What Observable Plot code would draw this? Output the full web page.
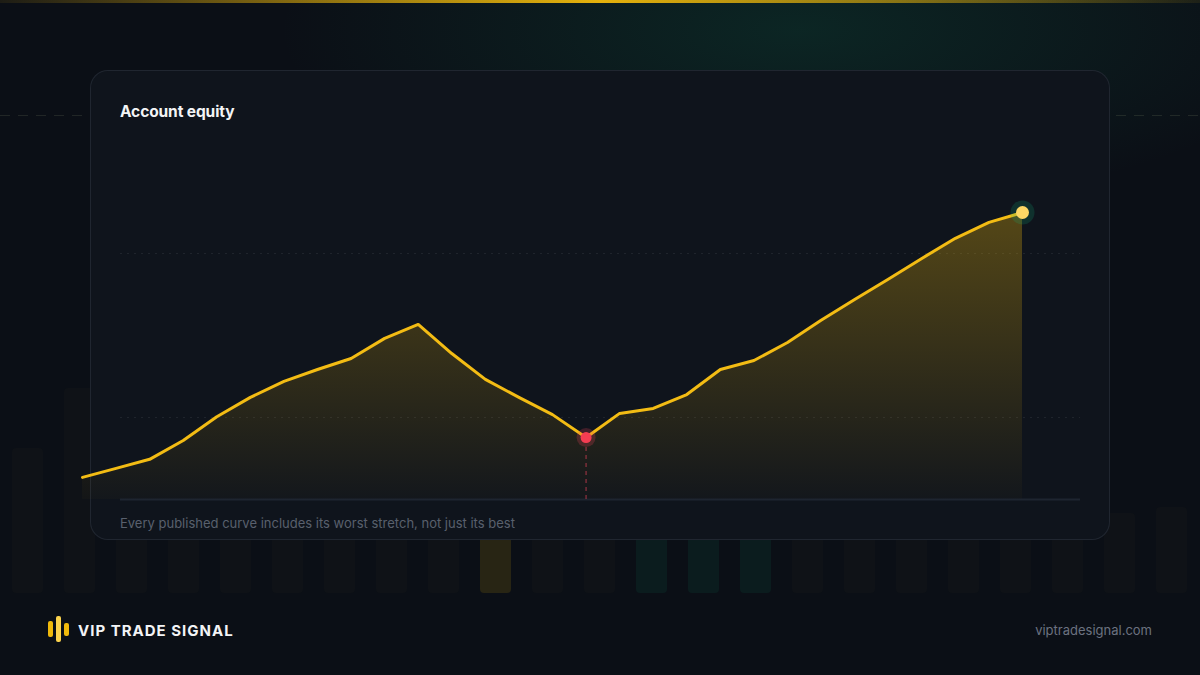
<!DOCTYPE html>
<html><head><meta charset="utf-8">
<script src="https://cdn.jsdelivr.net/npm/d3@7"></script>
<script src="https://cdn.jsdelivr.net/npm/@observablehq/plot@0.6"></script>
<style>
html,body{margin:0;padding:0;background:#0b0f16;}
#page{position:relative;width:1200px;height:675px;overflow:hidden;background:#0b0f16;font-family:Inter,"Helvetica Neue",Arial,sans-serif;}
.glow{position:absolute;left:0;top:0;width:1200px;height:675px;background:radial-gradient(ellipse 520px 180px at 800px 30px, rgba(14,110,80,0.24), rgba(14,110,80,0) 100%);}
.topline{position:absolute;left:0;top:0;width:1200px;height:3px;background:linear-gradient(90deg, rgba(240,185,11,0.08), rgba(240,185,11,0.55) 25%, rgba(240,185,11,0.95) 50%, rgba(240,185,11,0.55) 75%, rgba(240,185,11,0.08));}
.dash{position:absolute;left:0;top:115px;width:1200px;height:1px;background:repeating-linear-gradient(90deg, rgba(150,160,120,0.16) 0 10px, transparent 10px 18px);}
#bg{position:absolute;left:0;top:0;}
.card{position:absolute;left:90px;top:70px;width:1020px;height:470px;box-sizing:border-box;border:1px solid rgba(148,163,184,0.13);border-radius:18px;background:#0f141c;}
.title{position:absolute;left:120px;top:102px;font-size:15.5px;font-weight:700;color:#f3f4f6;letter-spacing:-0.1px;}
.caption{position:absolute;left:120px;top:515px;font-size:13px;color:#59606d;}
#chart{position:absolute;left:0;top:0;}
.logo{position:absolute;left:48px;top:616px;width:22px;height:26px;}
.logo span{position:absolute;width:5px;border-radius:2px;background:#f0b90b;}
.brand{position:absolute;left:78px;top:621px;font-size:15px;font-weight:700;color:#f3f4f6;letter-spacing:1px;}
.site{position:absolute;right:48px;top:622px;font-size:13px;color:#6b7280;}
</style></head>
<body>
<div id="page">
  <div class="glow"></div>
  <div class="topline"></div>
  <div class="dash"></div>
  <div id="bg"></div>
  <div class="card"></div>
  <div class="title">Account equity</div>
  <div class="caption">Every published curve includes its worst stretch, not just its best</div>
  <div id="chart"></div>
  <div class="logo"><span style="left:0;top:5px;height:16px;"></span><span style="left:8px;top:0;height:26px;background:#fcd34d;"></span><span style="left:16px;top:7px;height:13px;"></span></div>
  <div class="brand">VIP TRADE SIGNAL</div>
  <div class="site">viptradesignal.com</div>
</div>
<script>
// Equity curve
const session = [1,2,3,4,5,6,7,8,9,10,11,12,13,14,15,16,17,18,19,20,21,22,23,24,25,26,27,28,29];
const equity = [9270, 9380, 9490, 9720, 10010, 10245, 10440, 10585, 10720, 10965, 11135, 10780, 10465, 10245, 10035, 9755, 10050, 10110, 10280, 10585, 10695, 10915, 11185, 11440, 11685, 11940, 12185, 12380, 12500];
const gridValues = [10000, 12000];
const floorValue = 9000;
const ceilValue = 13000;

// Decorative background bars
const bgIndex = [0,1,2,3,4,5,6,7,8,9,10,11,12,13,14,15,16,17,18,19,20,21,22];
const bgHeight = [145, 205, 170, 190, 150, 230, 180, 210, 160, 240, 190, 170, 220, 200, 250, 180, 160, 210, 190, 230, 170, 80, 86];
const bgKind = ["dim","dim","dim","dim","dim","dim","dim","dim","dim","gold","dim","dim","green","green","green","dim","dim","dim","dim","dim","dim","dim","dim"];
const bgFill = {dim: "rgba(255,205,110,0.02)", gold: "rgba(240,185,11,0.13)", green: "rgba(16,185,129,0.08)"};

const bgData = bgIndex.map((i, k) => ({i, h: bgHeight[k], kind: bgKind[k]}));
const bg = Plot.plot({
  width: 1200, height: 675,
  marginTop: 0, marginBottom: 82, marginLeft: 0, marginRight: 0,
  x: {type: "band", domain: bgIndex, range: [10, 1210.6], padding: 0, axis: null},
  y: {domain: [0, 300], range: [593, 293], axis: null},
  style: {background: "transparent"},
  marks: [
    Plot.barY(bgData, {x: "i", y: "h", fill: d => bgFill[d.kind], insetRight: 21, rx: 4})
  ]
});
document.getElementById("bg").appendChild(bg);

const data = session.map((s, i) => ({s, v: equity[i]}));
// trough of the deepest drawdown
let peak = -Infinity, worst = 0, troughI = 0;
equity.forEach((v, i) => { peak = Math.max(peak, v); if (peak - v > worst) { worst = peak - v; troughI = i; } });
const low = [data[troughI]];
const last = [data[data.length - 1]];

const chart = Plot.plot({
  width: 1200, height: 675,
  marginLeft: 120, marginRight: 120, marginTop: 171, marginBottom: 176,
  x: {domain: [1, 29], range: [82, 1022], axis: null},
  y: {domain: [floorValue, ceilValue], axis: null},
  style: {background: "transparent", overflow: "visible"},
  marks: [
    Plot.ruleY(gridValues, {stroke: "#ffffff", strokeOpacity: 0.07, strokeDasharray: "2,5"}),
    Plot.areaY(data, {x: "s", y1: () => floorValue, y2: "v", fill: "url(#goldFade)"}),
    Plot.ruleY([floorValue], {stroke: "#1e2530", strokeWidth: 2}),
    Plot.ruleX(low, {x: "s", y1: () => floorValue, y2: "v", stroke: "#f6465d", strokeOpacity: 0.55, strokeWidth: 1.2, strokeDasharray: "4,4"}),
    Plot.lineY(data, {x: "s", y: "v", stroke: "#f3bc14", strokeWidth: 3, strokeLinejoin: "round", strokeLinecap: "round"}),
    Plot.dot(low, {x: "s", y: "v", r: 9.5, fill: "#f6465d", fillOpacity: 0.22}),
    Plot.dot(low, {x: "s", y: "v", r: 5.5, fill: "#f43d52"}),
    Plot.dot(last, {x: "s", y: "v", r: 12, fill: "#10b981", fillOpacity: 0.18}),
    Plot.dot(last, {x: "s", y: "v", r: 6.5, fill: "#fcd765"})
  ]
});
const defs = d3.select(chart).insert("defs", ":first-child");
const grad = defs.append("linearGradient").attr("id", "goldFade").attr("x1", 0).attr("y1", 0).attr("x2", 0).attr("y2", 1);
grad.append("stop").attr("offset", "0%").attr("stop-color", "#f0b90b").attr("stop-opacity", 0.31);
grad.append("stop").attr("offset", "100%").attr("stop-color", "#f0b90b").attr("stop-opacity", 0.02);
document.getElementById("chart").appendChild(chart);
</script>
</body></html>
